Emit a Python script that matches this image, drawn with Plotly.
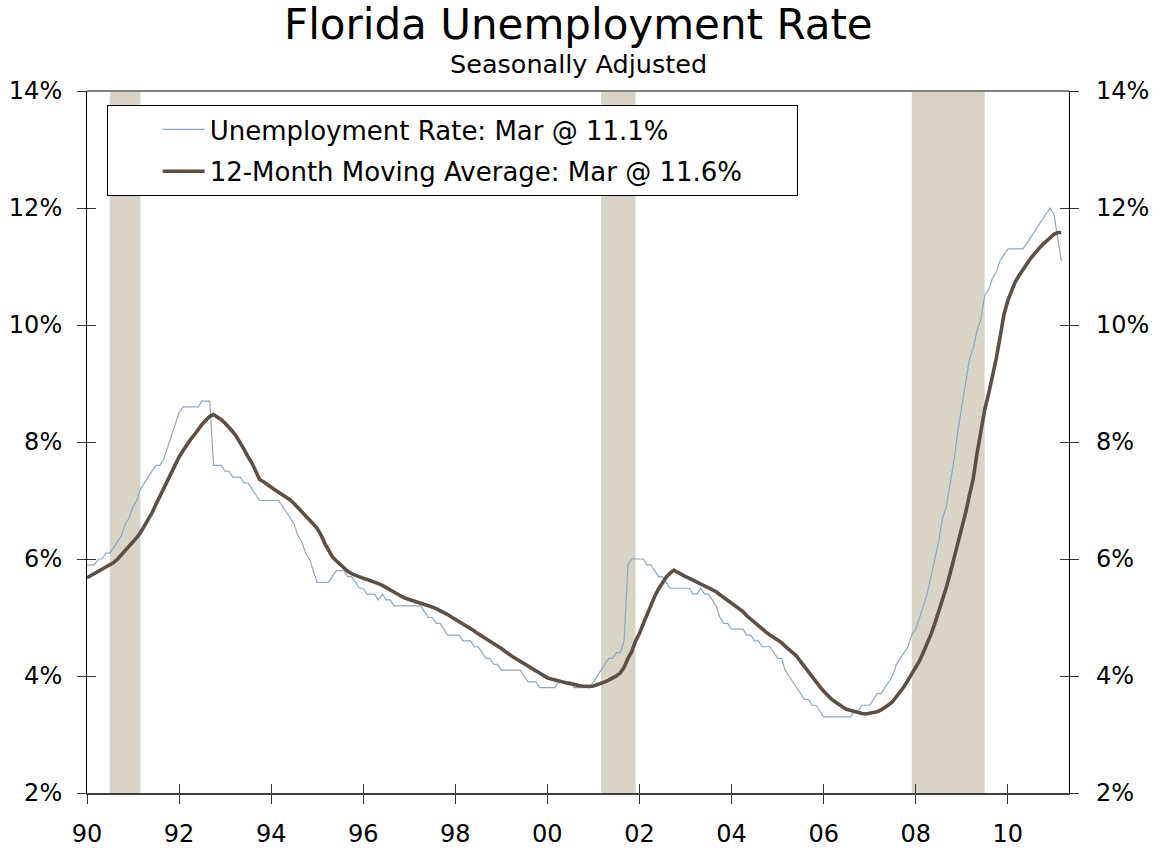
import pandas as pd
import plotly.graph_objects as go

# ---------------- data ----------------
months = pd.date_range("1990-01-01", "2011-03-01", freq="MS")

unemployment_rate = [
    5.9, 5.9, 5.9, 6.0, 6.0, 6.1, 6.1, 6.2, 6.3, 6.4, 6.6, 6.7,        # 1990
    6.9, 7.0, 7.2, 7.3, 7.4, 7.5, 7.6, 7.6, 7.7, 7.9, 8.1, 8.3,        # 1991
    8.5, 8.6, 8.6, 8.6, 8.6, 8.6, 8.7, 8.7, 8.7, 7.6, 7.6, 7.6,        # 1992
    7.5, 7.5, 7.4, 7.4, 7.4, 7.3, 7.3, 7.2, 7.1, 7.0, 7.0, 7.0,        # 1993
    7.0, 7.0, 7.0, 6.9, 6.8, 6.7, 6.6, 6.4, 6.3, 6.1, 6.0, 5.8,        # 1994
    5.6, 5.6, 5.6, 5.6, 5.7, 5.8, 5.8, 5.8, 5.7, 5.7, 5.6, 5.5,        # 1995
    5.5, 5.4, 5.4, 5.4, 5.3, 5.4, 5.3, 5.3, 5.2, 5.2, 5.2, 5.2,        # 1996
    5.2, 5.2, 5.2, 5.2, 5.1, 5.0, 5.0, 4.9, 4.9, 4.8, 4.7, 4.7,        # 1997
    4.7, 4.7, 4.6, 4.6, 4.6, 4.5, 4.5, 4.4, 4.3, 4.3, 4.2, 4.2,        # 1998
    4.1, 4.1, 4.1, 4.1, 4.1, 4.1, 4.0, 3.9, 3.9, 3.9, 3.8, 3.8,        # 1999
    3.8, 3.8, 3.8, 3.9, 3.9, 3.9, 3.9, 3.8, 3.8, 3.8, 3.8, 3.8,        # 2000
    3.9, 4.0, 4.1, 4.2, 4.3, 4.3, 4.4, 4.4, 4.6, 5.9, 6.0, 6.0,        # 2001
    6.0, 6.0, 5.9, 5.9, 5.8, 5.7, 5.7, 5.6, 5.5, 5.5, 5.5, 5.5,        # 2002
    5.5, 5.5, 5.4, 5.4, 5.5, 5.4, 5.4, 5.3, 5.2, 5.0, 4.9, 4.9,        # 2003
    4.8, 4.8, 4.8, 4.8, 4.7, 4.7, 4.6, 4.6, 4.5, 4.5, 4.5, 4.4,        # 2004
    4.3, 4.3, 4.1, 4.0, 3.9, 3.8, 3.7, 3.6, 3.6, 3.5, 3.5, 3.4,        # 2005
    3.3, 3.3, 3.3, 3.3, 3.3, 3.3, 3.3, 3.3, 3.4, 3.4, 3.5, 3.5,        # 2006
    3.5, 3.6, 3.7, 3.7, 3.8, 3.9, 4.0, 4.2, 4.3, 4.4, 4.5, 4.7,        # 2007
    4.8, 5.0, 5.2, 5.4, 5.7, 6.0, 6.3, 6.7, 6.9, 7.3, 7.7, 8.2,        # 2008
    8.6, 9.0, 9.4, 9.6, 9.9, 10.1, 10.5, 10.6, 10.8, 10.9, 11.1, 11.2, # 2009
    11.3, 11.3, 11.3, 11.3, 11.3, 11.4, 11.5, 11.6, 11.7, 11.8, 11.9, 12.0,  # 2010
    11.9, 11.5, 11.1,                                                  # 2011
]

moving_average = [
    5.68, 5.72, 5.76, 5.80, 5.83, 5.87, 5.91, 5.94, 6.00, 6.07, 6.14, 6.22,
    6.29, 6.37, 6.45, 6.56, 6.67, 6.79, 6.93, 7.07, 7.19, 7.31, 7.45, 7.60,
    7.74, 7.85, 7.95, 8.04, 8.12, 8.22, 8.30, 8.37, 8.44, 8.47, 8.43, 8.38,
    8.32, 8.25, 8.18, 8.09, 7.99, 7.87, 7.75, 7.64, 7.50, 7.36, 7.32, 7.27,
    7.22, 7.18, 7.14, 7.10, 7.06, 7.01, 6.95, 6.88, 6.82, 6.74, 6.67, 6.60,
    6.52, 6.41, 6.27, 6.14, 6.04, 5.97, 5.91, 5.85, 5.79, 5.75, 5.72, 5.69,
    5.67, 5.65, 5.63, 5.60, 5.58, 5.55, 5.51, 5.48, 5.44, 5.40, 5.36, 5.33,
    5.31, 5.28, 5.26, 5.24, 5.22, 5.20, 5.18, 5.15, 5.12, 5.08, 5.05, 5.01,
    4.97, 4.93, 4.90, 4.86, 4.81, 4.77, 4.72, 4.68, 4.64, 4.60, 4.56, 4.52,
    4.47, 4.42, 4.37, 4.33, 4.29, 4.25, 4.21, 4.16, 4.12, 4.08, 4.04, 4.00,
    3.97, 3.95, 3.93, 3.92, 3.90, 3.88, 3.87, 3.85, 3.84, 3.83, 3.82, 3.82,
    3.83, 3.85, 3.87, 3.90, 3.93, 3.96, 4.00, 4.05, 4.15, 4.30, 4.42, 4.60,
    4.73, 4.90, 5.05, 5.22, 5.36, 5.49, 5.60, 5.69, 5.76, 5.81, 5.77, 5.73,
    5.70, 5.67, 5.64, 5.60, 5.57, 5.54, 5.51, 5.48, 5.44, 5.39, 5.34, 5.29,
    5.24, 5.19, 5.15, 5.10, 5.03, 4.97, 4.91, 4.85, 4.80, 4.75, 4.70, 4.66,
    4.62, 4.57, 4.51, 4.45, 4.39, 4.34, 4.25, 4.16, 4.07, 3.98, 3.90, 3.82,
    3.74, 3.67, 3.61, 3.56, 3.51, 3.47, 3.43, 3.41, 3.39, 3.37, 3.36, 3.35,
    3.36, 3.37, 3.39, 3.42, 3.46, 3.51, 3.56, 3.64, 3.72, 3.82, 3.93, 4.04,
    4.14, 4.26, 4.40, 4.55, 4.71, 4.90, 5.10, 5.30, 5.52, 5.76, 6.01, 6.26,
    6.52, 6.80, 7.08, 7.37, 7.80, 8.19, 8.55, 8.82, 9.12, 9.43, 9.80, 10.18,
    10.42, 10.60, 10.74, 10.85, 10.95, 11.05, 11.14, 11.22, 11.30, 11.37, 11.43, 11.49,
    11.55, 11.58, 11.58,
]

recession_start = ["1990-07-01", "2001-03-01", "2007-12-01"]
recession_end = ["1991-03-01", "2001-12-01", "2009-07-01"]

x_tick_dates = [f"{y}-01-01" for y in range(1990, 2011, 2)]
x_tick_labels = ["90", "92", "94", "96", "98", "00", "02", "04", "06", "08", "10"]
y_tick_values = [2, 4, 6, 8, 10, 12, 14]
y_tick_labels = ["2%", "4%", "6%", "8%", "10%", "12%", "14%"]

series_names = [
    "Unemployment Rate: Mar @ 11.1%",
    "12-Month Moving Average: Mar @ 11.6%" + "\u00a0" * 6,
]

FONT = "DejaVu Sans"
BLUE = "#8DA8C0"
BROWN = "#5C5046"
SHADE = "#D8D4C8"

fig = go.Figure()

fig.add_trace(go.Scatter(
    x=months, y=unemployment_rate, mode="lines",
    name=series_names[0],
    line=dict(color=BLUE, width=1.2),
    legendgroup="a", xaxis="x", yaxis="y",
))
fig.add_trace(go.Scatter(
    x=months, y=moving_average, mode="lines",
    name=series_names[1],
    line=dict(color=BROWN, width=3.6),
    legendgroup="b", xaxis="x2", yaxis="y2",
))

for s, e in zip(recession_start, recession_end):
    fig.add_shape(type="rect", xref="x", yref="paper", x0=s, x1=e, y0=0, y1=1,
                  fillcolor=SHADE, line=dict(width=0), layer="below")

# top frame line
fig.add_shape(type="line", xref="paper", yref="paper", x0=0, x1=1, y0=1, y1=1,
              line=dict(color="#808080", width=2))

x_range = ["1990-01-01", "2011-05-01"]
tickfont = dict(family=FONT, size=24, color="black")

fig.update_layout(
    width=1153, height=850,
    margin=dict(l=87, r=84, t=91, b=57, autoexpand=False),
    paper_bgcolor="white", plot_bgcolor="white",
    showlegend=True,
    font=dict(family=FONT, color="black"),
    xaxis=dict(
        range=x_range, tickmode="array", tickvals=x_tick_dates, ticktext=x_tick_labels,
        ticks="outside", ticklen=9, tickwidth=1, tickcolor="#333333",
        showline=True, linecolor="#404040", linewidth=2, automargin=False,
        showgrid=False, zeroline=False, tickfont=tickfont, ticklabelstandoff=9,
    ),
    xaxis2=dict(
        range=x_range, overlaying="x", matches="x", anchor="y2", side="bottom",
        tickmode="array", tickvals=x_tick_dates, automargin=False,
        ticks="inside", ticklen=9, tickwidth=1, tickcolor="#333333",
        showticklabels=False, showline=False, showgrid=False, zeroline=False,
    ),
    yaxis=dict(
        range=[2, 14], tickmode="array", tickvals=y_tick_values, ticktext=y_tick_labels,
        ticks="outside", ticklen=9, tickwidth=1, tickcolor="#333333",
        showline=True, linecolor="black", linewidth=1, mirror="ticks", automargin=False,
        showgrid=False, zeroline=False, tickfont=tickfont, ticklabelstandoff=10,
    ),
    yaxis2=dict(
        range=[2, 14], overlaying="y", matches="y", anchor="x2", side="right",
        tickmode="array", tickvals=y_tick_values, ticktext=y_tick_labels,
        ticks="inside", ticklen=9, tickwidth=1, tickcolor="#333333", mirror="ticks",
        showline=False, showgrid=False, zeroline=False, tickfont=tickfont,
        ticklabelstandoff=26, automargin=False,
    ),
    legend=dict(
        x=0.02, y=0.98, xanchor="left", yanchor="top",
        bgcolor="white", bordercolor="black", borderwidth=1,
        font=dict(family=FONT, size=26, color="black"),
        tracegroupgap=5, itemwidth=42, indentation=50,
    ),
    annotations=[
        dict(text="Florida Unemployment Rate", x=0.5, y=1, xref="paper", yref="paper",
             xanchor="center", yanchor="bottom", yshift=40, showarrow=False,
             font=dict(family=FONT, size=42, color="black")),
        dict(text="Seasonally Adjusted", x=0.5, y=1, xref="paper", yref="paper",
             xanchor="center", yanchor="bottom", yshift=10, showarrow=False,
             font=dict(family=FONT, size=25.5, color="black")),
    ],
)

fig.write_html(
    "out.html",
    config={"displayModeBar": False},
    post_script="document.body.style.margin='0';document.body.style.overflow='hidden';",
)
